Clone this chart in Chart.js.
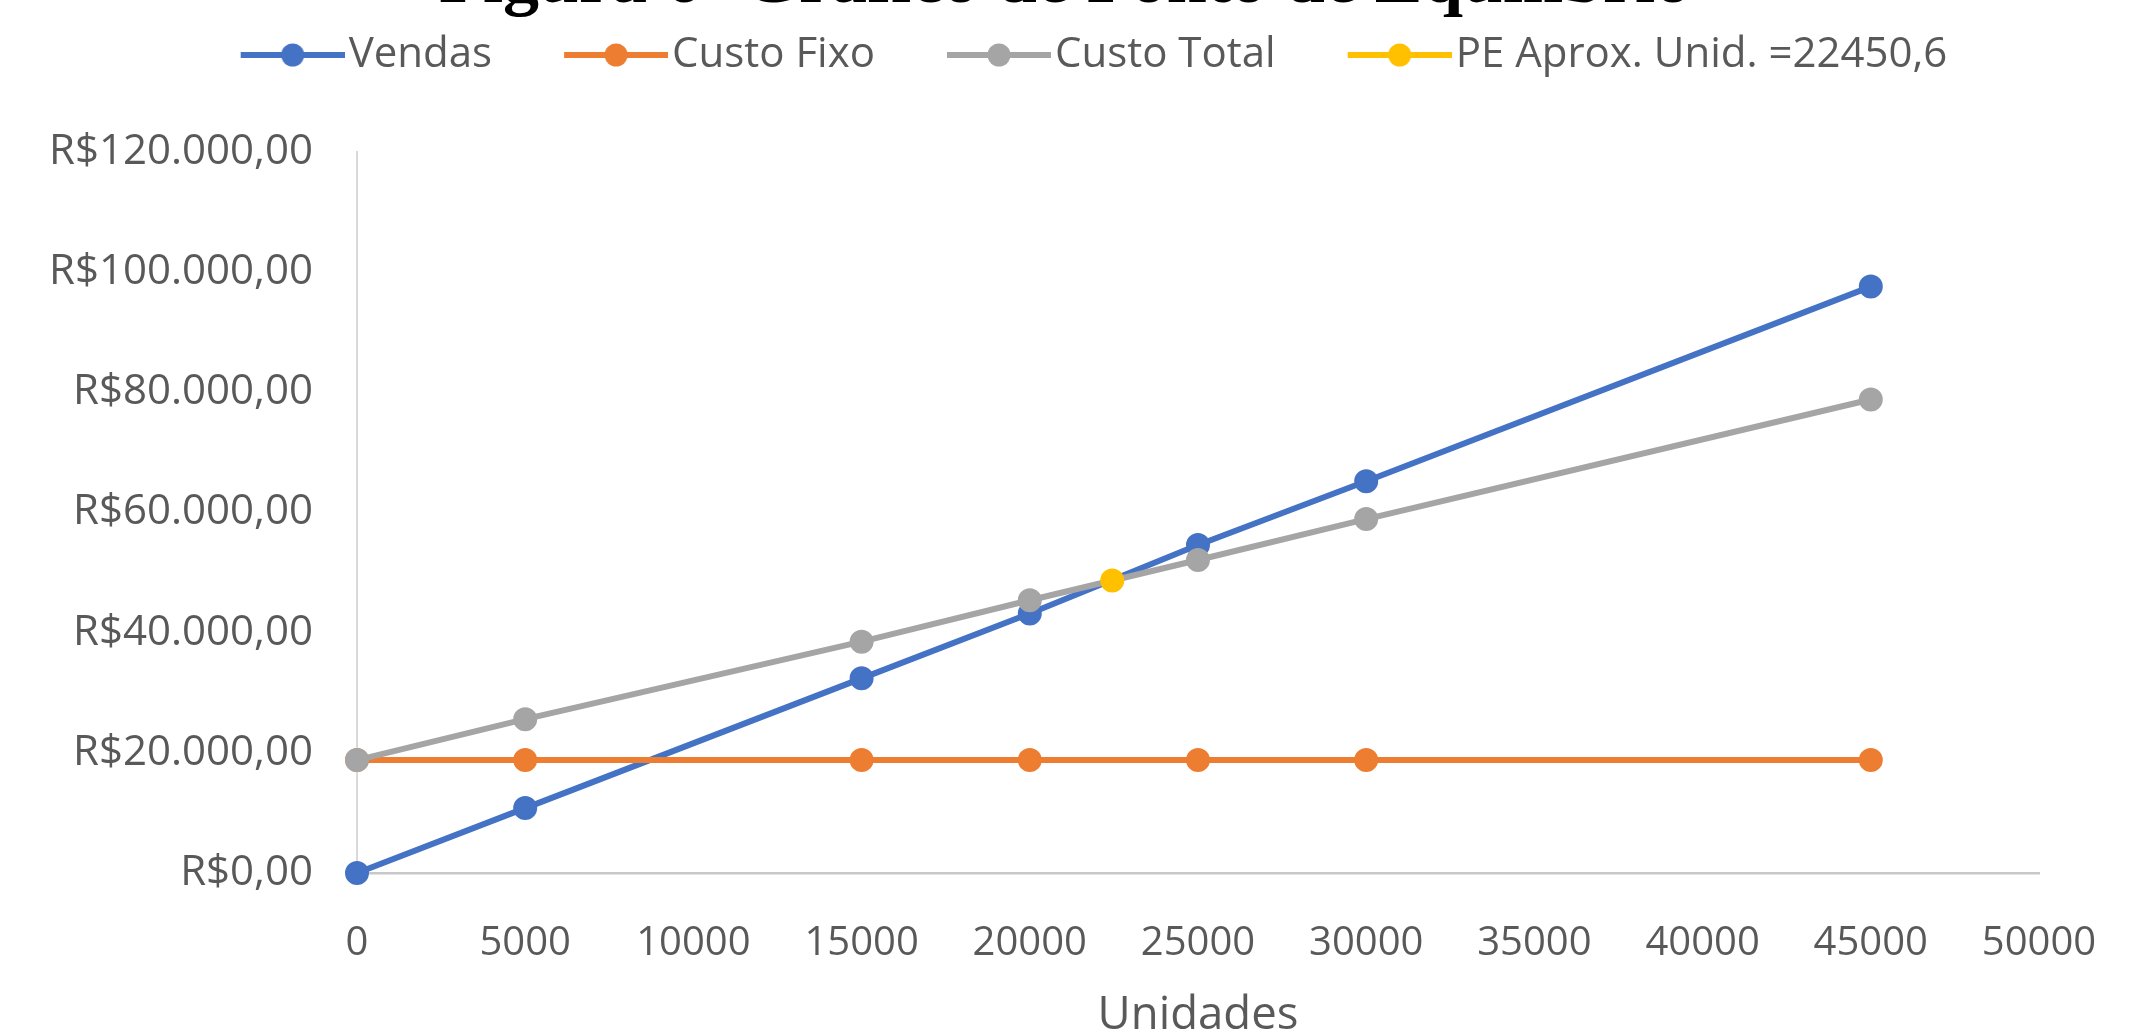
<!DOCTYPE html>
<html lang="pt-BR">
<head>
<meta charset="utf-8">
<title>Gráfico de Ponto de Equilíbrio</title>
<script src="https://cdn.jsdelivr.net/npm/chart.js@4.4.1/dist/chart.umd.min.js"></script>
<style>
  html, body { margin: 0; padding: 0; background: #ffffff; overflow: hidden; }
  #area { position: relative; width: 2155px; height: 1031px; overflow: hidden; }
  #grafico { position: absolute; left: 0; top: -50px; display: block; background: #ffffff; }
</style>
</head>
<body>
<div id="area"><canvas id="grafico" width="2155" height="1081"></canvas></div>
<script>
// Quantidades analisadas (unidades vendidas)
const unidades   = [0, 5000, 15000, 20000, 25000, 30000, 45000];
// Receita de vendas, custo fixo e custo total em R$
const vendas     = [0, 10800, 32400, 43200, 54600, 65200, 97600];
const custoFixo  = [18800, 18800, 18800, 18800, 18800, 18800, 18800];
const custoTotal = [18800, 25600, 38500, 45400, 52100, 58900, 78800];
// Ponto de equilíbrio aproximado
const peUnidades = [22450.6];
const peValor    = [48700];

const nomesSeries = ['Vendas', 'Custo Fixo', 'Custo Total', 'PE Aprox. Unid. ='];
const coresSeries = ['#4472C4', '#ED7D31', '#A5A5A5', '#FFC000'];

const ticksX = [0, 5000, 10000, 15000, 20000, 25000, 30000, 35000, 40000, 45000, 50000];
const ticksY = [0, 20000, 40000, 60000, 80000, 100000, 120000];

const TITULO = 'Figura 6- Gráfico de Ponto de Equilíbrio';
const TITULO_EIXO_X = 'Unidades';

const FONTE = "'Open Sans', 'DejaVu Sans', sans-serif";
const COR_TEXTO = '#595959';
const DESLOC_TOPO = 50;      // parte do canvas acima da área visível
const PAD_ESQ = 41;
const EIXO_Y_X = 357;        // posição da linha do eixo vertical
const FOLGA_DIR = 116;       // espaço à direita da área de plotagem

function moedaBR(v) {
  const partes = Math.abs(v).toFixed(2).split('.');
  const inteiro = partes[0].replace(/\B(?=(\d{3})+(?!\d))/g, '.');
  return 'R$' + inteiro + ',' + partes[1];
}
function numeroBR(v) {
  return String(v).replace('.', ',');
}

function pontos(xs, ys) {
  return xs.map((x, i) => ({ x: x, y: ys[i] }));
}

function serie(i, dados, ordem) {
  const cor = coresSeries[i];
  return {
    label: i === 3 ? nomesSeries[i] + numeroBR(peUnidades[0]) : nomesSeries[i],
    data: dados,
    borderColor: cor,
    backgroundColor: cor,
    pointBackgroundColor: cor,
    pointBorderColor: cor,
    borderWidth: 6,
    pointRadius: 11,
    pointBorderWidth: 2,
    pointHoverRadius: 11,
    tension: 0,
    clip: false,
    order: ordem
  };
}

// Ícone de legenda: segmento de linha com marcador circular no meio
function iconeLegenda(cor) {
  const W = 113, H = 28;
  const c = document.createElement('canvas');
  c.width = W; c.height = H;
  const g = c.getContext('2d');
  g.strokeStyle = cor;
  g.lineWidth = 6;
  g.beginPath();
  g.moveTo(W - 104, H / 2);
  g.lineTo(W, H / 2);
  g.stroke();
  g.fillStyle = cor;
  g.beginPath();
  g.arc(W - 52, H / 2, 11.5, 0, Math.PI * 2);
  g.fill();
  return c;
}
const icones = coresSeries.map(iconeLegenda);

// Título da figura, desenhado no topo
const tituloFigura = {
  id: 'tituloFigura',
  afterDraw(chart) {
    const ctx = chart.ctx;
    ctx.save();
    ctx.font = "bold 72px 'Liberation Serif', 'Times New Roman', serif";
    ctx.fillStyle = '#000000';
    ctx.textAlign = 'center';
    ctx.textBaseline = 'alphabetic';
    ctx.fillText(TITULO, 1065, DESLOC_TOPO + 2);
    ctx.restore();
  }
};

// Espaço extra entre a legenda e a área do gráfico
const espacoLegenda = {
  id: 'espacoLegenda',
  beforeLayout(chart) {
    const lg = chart.legend;
    if (lg && !lg._espacoExtra) {
      const fitOriginal = lg.fit;
      lg.fit = function () {
        fitOriginal.call(this);
        this.height += 66;
      };
      lg._espacoExtra = true;
    }
  }
};

new Chart(document.getElementById('grafico'), {
  type: 'line',
  data: {
    datasets: [
      serie(0, pontos(unidades, vendas), 4),
      serie(1, pontos(unidades, custoFixo), 3),
      serie(2, pontos(unidades, custoTotal), 2),
      serie(3, pontos(peUnidades, peValor), 1)
    ]
  },
  options: {
    responsive: false,
    devicePixelRatio: 1,
    animation: false,
    events: [],
    layout: { padding: { top: 4, left: PAD_ESQ, right: 0, bottom: 0 } },
    plugins: {
      title: { display: false },
      tooltip: { enabled: false },
      legend: {
        display: true,
        position: 'top',
        align: 'center',
        labels: {
          usePointStyle: true,
          pointStyleWidth: 79,
          padding: 80,
          color: COR_TEXTO,
          font: { family: FONTE, size: 42 },
          generateLabels(chart) {
            const itens = Chart.defaults.plugins.legend.labels.generateLabels(chart);
            itens.forEach(it => { it.pointStyle = icones[it.datasetIndex]; });
            return itens.sort((a, b) => a.datasetIndex - b.datasetIndex);
          }
        }
      }
    },
    scales: {
      x: {
        type: 'linear',
        min: ticksX[0],
        max: ticksX[ticksX.length - 1],
        afterBuildTicks(s) { s.ticks = ticksX.map(v => ({ value: v })); },
        grid: { display: false, drawTicks: false },
        border: { display: true, color: '#c8c8c8', width: 2.5 },
        ticks: {
          color: COR_TEXTO,
          font: { family: FONTE, size: 40 },
          padding: 47,
          maxRotation: 0,
          autoSkip: false,
          callback: v => String(v)
        },
        title: {
          display: true,
          text: TITULO_EIXO_X,
          color: COR_TEXTO,
          font: { family: FONTE, size: 45.5, lineHeight: 0.66 },
          padding: 0
        },
        afterFit(s) {
          s.height = 158;
          s.paddingLeft = 0;
          s.paddingRight = FOLGA_DIR;
        }
      },
      y: {
        min: ticksY[0],
        max: ticksY[ticksY.length - 1],
        afterBuildTicks(s) { s.ticks = ticksY.map(v => ({ value: v })); },
        grid: { display: false, drawTicks: false },
        border: { display: true, color: '#d9d9d9', width: 2 },
        ticks: {
          color: COR_TEXTO,
          font: { family: FONTE, size: 42 },
          padding: 44,
          callback: v => moedaBR(v)
        },
        afterFit(s) {
          s.width = EIXO_Y_X - PAD_ESQ;
          s.paddingTop = 0;
          s.paddingBottom = 0;
        }
      }
    }
  },
  plugins: [tituloFigura, espacoLegenda]
});
</script>
</body>
</html>
